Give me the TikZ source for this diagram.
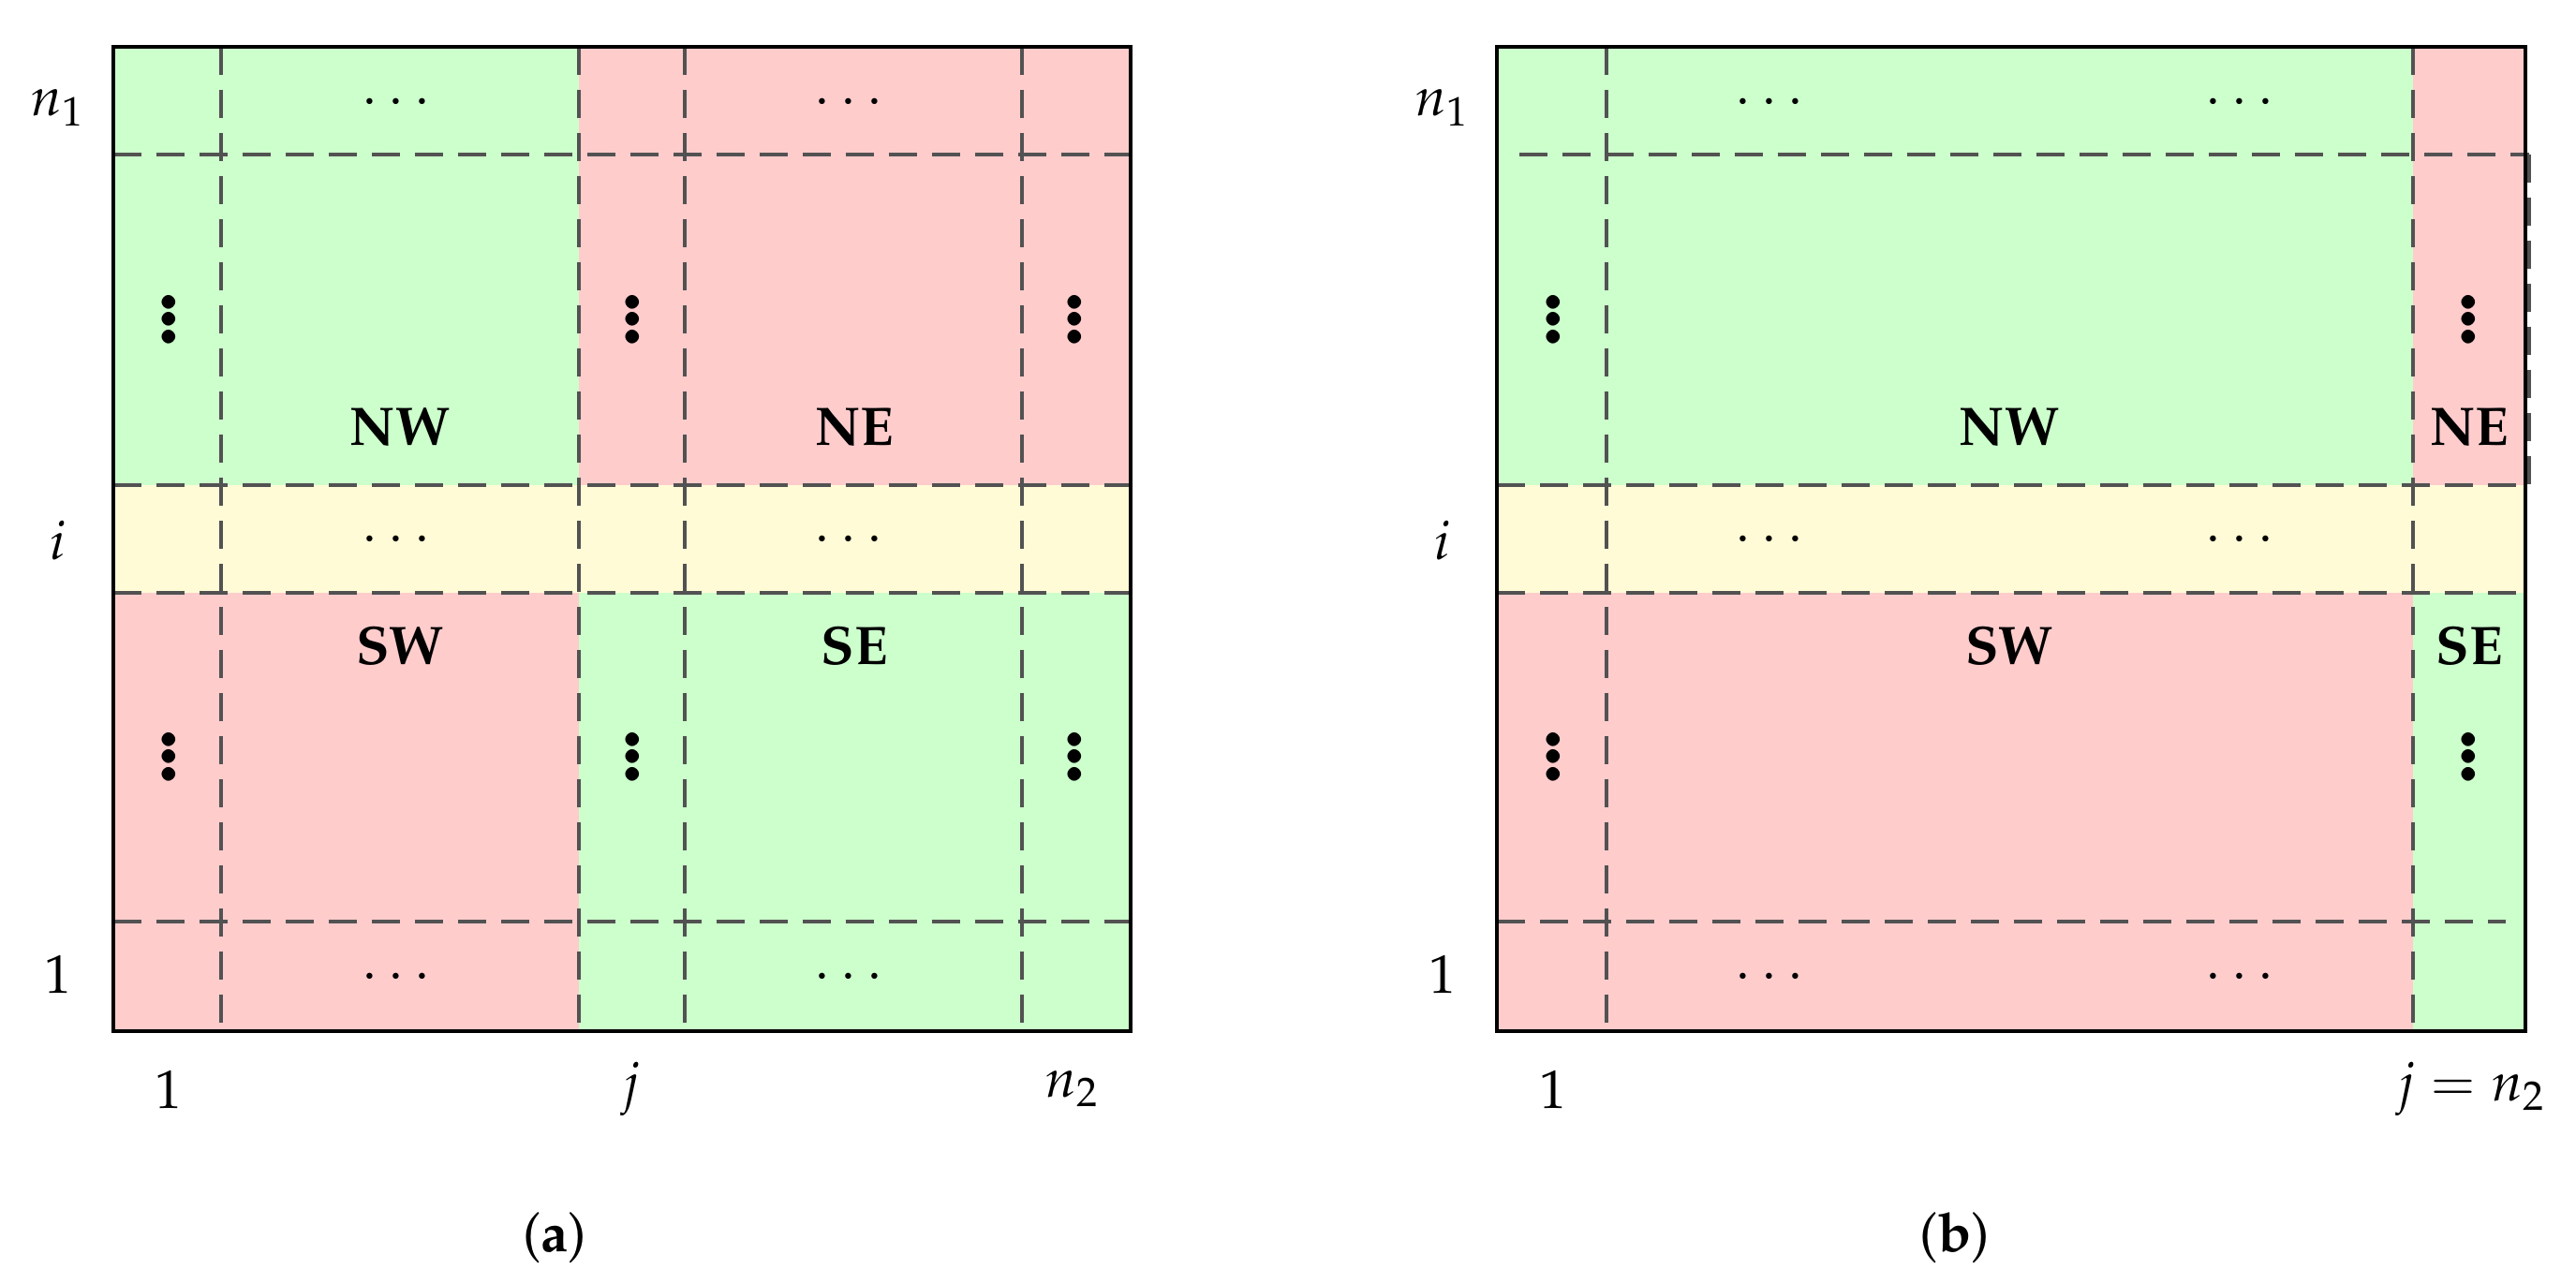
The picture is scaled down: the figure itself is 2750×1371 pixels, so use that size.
\documentclass[tikz,border=0pt]{standalone}
\usepackage[T1]{fontenc}
\usepackage{mathpazo}
\begin{document}
\begin{tikzpicture}[x=0.1mm,y=-0.1mm,
  every node/.style={font=\fontsize{16.5}{20}\selectfont, inner sep=0pt},
  dl/.style={draw=black!68, line width=0.9pt, dash pattern=on 3mm off 1.6mm},
  frame/.style={draw=black, line width=1.1pt},
  vd/.style={font=\fontsize{36}{40}\selectfont\boldmath},
  lab/.style={font=\fontsize{16.5}{20}\selectfont\bfseries}]
\definecolor{gr}{HTML}{CCFFCC}
\definecolor{rd}{HTML}{FFCCCC}
\definecolor{yl}{HTML}{FFFBD6}
\useasboundingbox (0,0) rectangle (2750,1371);
% ---------- panel (a)
\fill[gr] (121,50) rectangle (618,518);
\fill[rd] (618,50) rectangle (1207,518);
\fill[yl] (121,518) rectangle (1207,633);
\fill[rd] (121,633) rectangle (618,1101);
\fill[gr] (618,633) rectangle (1207,1101);
\foreach \y in {165,518,633,984} \draw[dl] (121,\y) -- (1207,\y);
\foreach \x in {236,618,731,1091} \draw[dl] (\x,50) -- (\x,1101);
\draw[frame] (121,50) rectangle (1207,1101);
\node (an1) at (62,115) {$n_1$};
\node (ai) at (62,577) {$i$};
\node (a1) at (62,1040) {$1$};
\node (ax1) at (180,1163) {$1$};
\node (axj) at (674,1163) {$j$};
\node (axn) at (1145,1163) {$n_2$};
\node (acap) at (592,1322) {(\textbf{a})};
\foreach \x/\k in {180/1,675/2,1147/3} {
  \node[vd] (avt\k) at (\x,330) {$\vdots$};
  \node[vd] (avb\k) at (\x,797) {$\vdots$};}
\foreach \x/\k in {423/1,906/2} {
  \node (ah1\k) at (\x,110) {$\cdots$};
  \node (ah2\k) at (\x,577) {$\cdots$};
  \node (ah3\k) at (\x,1044) {$\cdots$};}
\node[lab] (aNW) at (427,456) {NW};
\node[lab] (aNE) at (912,456) {NE};
\node[lab] (aSW) at (427,690) {SW};
\node[lab] (aSE) at (912,690) {SE};
% ---------- panel (b)
\fill[gr] (1598,50) rectangle (2576,518);
\fill[rd] (2576,50) rectangle (2696,518);
\fill[yl] (1598,518) rectangle (2696,633);
\fill[rd] (1598,633) rectangle (2576,1101);
\fill[gr] (2576,633) rectangle (2696,1101);
\draw[dl] (1622,165) -- (2700,165);
\draw[dl] (1598,518) -- (2696,518);
\draw[dl] (1598,633) -- (2696,633);
\draw[dl] (1598,984) -- (2675,984);
\draw[dl] (1715,50) -- (1715,1101);
\draw[dl] (2576,50) -- (2576,1101);
\draw[dl] (2700,165) -- (2700,518);
\draw[frame] (1598,50) rectangle (2696,1101);
\node (bn1) at (1540,115) {$n_1$};
\node (bi) at (1540,577) {$i$};
\node (b1) at (1540,1040) {$1$};
\node (bx1) at (1658,1163) {$1$};
\node (bxj) at (2638,1163) {$j=n_2$};
\node (bcap) at (2087,1322) {(\textbf{b})};
\foreach \x/\k in {1658/1,2635/2} {
  \node[vd] (bvt\k) at (\x,330) {$\vdots$};
  \node[vd] (bvb\k) at (\x,797) {$\vdots$};}
\foreach \x/\k in {1889/1,2391/2} {
  \node (bh1\k) at (\x,110) {$\cdots$};
  \node (bh2\k) at (\x,577) {$\cdots$};
  \node (bh3\k) at (\x,1044) {$\cdots$};}
\node[lab] (bNW) at (2145,456) {NW};
\node[lab] (bNE) at (2636,456) {NE};
\node[lab] (bSW) at (2145,690) {SW};
\node[lab] (bSE) at (2636,690) {SE};
\end{tikzpicture}
\end{document}
